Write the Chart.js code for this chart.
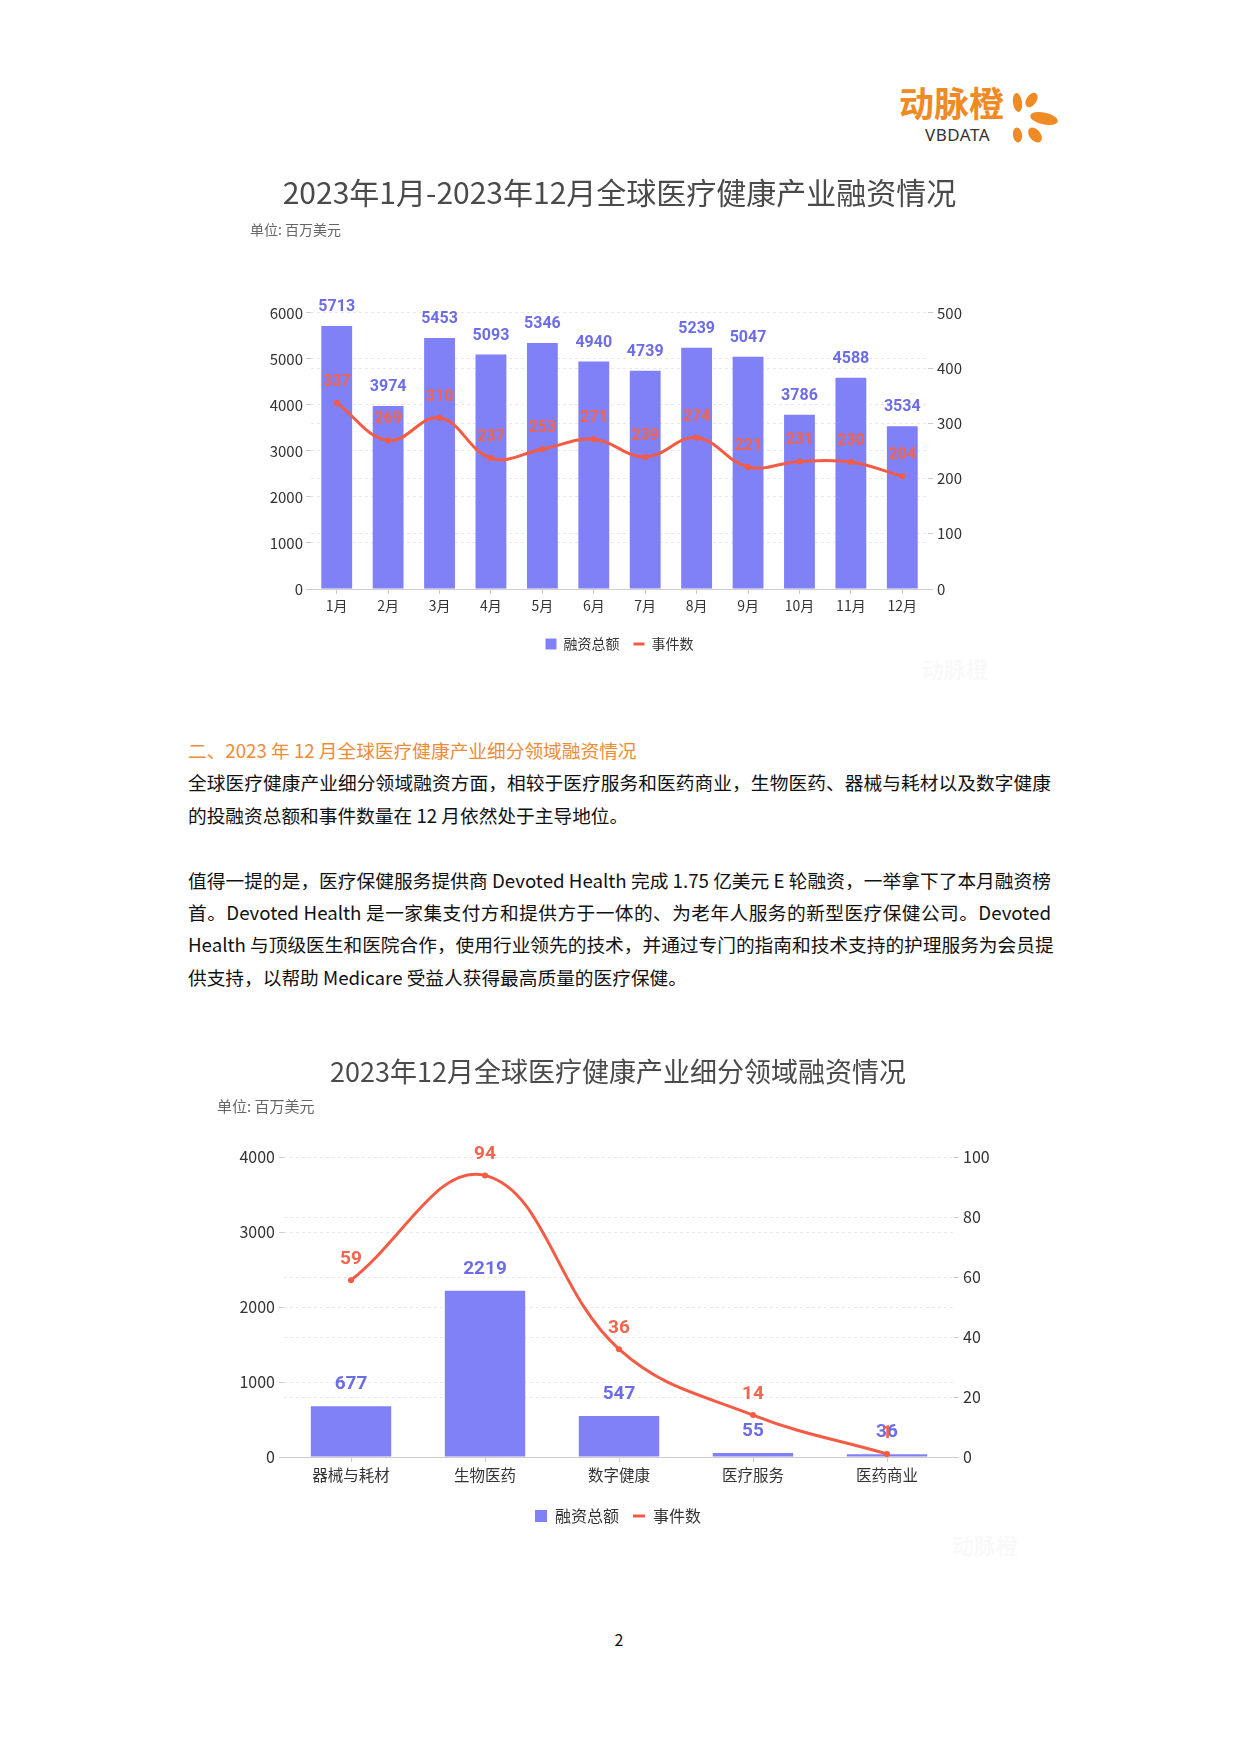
<!DOCTYPE html>
<html lang="zh-CN">
<head>
<meta charset="utf-8">
<title>2023年全球医疗健康产业融资情况</title>
<script src="https://cdn.jsdelivr.net/npm/chart.js@4.4.1/dist/chart.umd.min.js"></script>
<style>
  html, body { margin: 0; padding: 0; background: #fff; }
  body {
    width: 1240px; height: 1754px; position: relative; overflow: hidden;
    font-family: "Noto Sans CJK SC", "Noto Sans", sans-serif; color: #111;
  }
  .abs { position: absolute; }
  .logo-cn { left: 899px; top: 82px; font-size: 35px; line-height: 40px; color: #F08A24; font-weight: 700; }
  .logo-en { left: 925px; top: 126px; font-size: 17px; line-height: 18px; color: #333; letter-spacing: 0.5px; font-family: "Noto Sans", sans-serif; }
  .chart-box { position: absolute; }
  .text { left: 188px; top: 734px; width: 863px; font-size: 18.7px; line-height: 32.4px; }
  .text div { white-space: nowrap; text-align: justify; text-align-last: justify; }
  .text div.last { text-align-last: left; }
  .text .heading { color: #EE8C35; text-align-last: left; }
  .watermark { font-size: 22px; color: #f9f9f9; font-weight: bold; }
  .page-no { left: 600px; width: 38px; top: 1627px; text-align: center; font-size: 16px; line-height: 24px; }
</style>
</head>
<body>

<!-- logo -->
<div class="abs logo-cn">动脉橙</div>
<div class="abs logo-en">VBDATA</div>
<svg class="abs" style="left:1005px;top:88px" width="60" height="60" viewBox="1005 88 60 60">
  <g fill="#F08A24">
    <ellipse cx="1017.5" cy="102.5" rx="4.5" ry="9.5" transform="rotate(-8 1017.5 102.5)"/>
    <ellipse cx="1031.5" cy="100" rx="5" ry="8" transform="rotate(35 1031.5 100)"/>
    <ellipse cx="1044" cy="118.5" rx="14" ry="6" transform="rotate(12 1044 118.5)"/>
    <ellipse cx="1017.5" cy="135" rx="4.5" ry="7.5" transform="rotate(-8 1017.5 135)"/>
    <ellipse cx="1035" cy="135" rx="5.5" ry="8.5" transform="rotate(-40 1035 135)"/>
  </g>
</svg>

<div class="chart-box" style="left:229px;top:162px;width:781px;height:522px;">
  <canvas id="monthlyChart"></canvas>
</div>
<div class="abs watermark" style="left:922px;top:652px;">动脉橙</div>

<div class="abs text">
  <div class="heading">二、2023 年 12 月全球医疗健康产业细分领域融资情况</div>
  <div>全球医疗健康产业细分领域融资方面，相较于医疗服务和医药商业，生物医药、器械与耗材以及数字健康</div>
  <div class="last">的投融资总额和事件数量在 12 月依然处于主导地位。</div>
  <div class="last">&nbsp;</div>
  <div>值得一提的是，医疗保健服务提供商 Devoted Health 完成 1.75 亿美元 E 轮融资，一举拿下了本月融资榜</div>
  <div>首。Devoted Health 是一家集支付方和提供方于一体的、为老年人服务的新型医疗保健公司。Devoted</div>
  <div>Health 与顶级医生和医院合作，使用行业领先的技术，并通过专门的指南和技术支持的护理服务为会员提</div>
  <div class="last">供支持，以帮助 Medicare 受益人获得最高质量的医疗保健。</div>
</div>

<div class="chart-box" style="left:196px;top:1040px;width:844px;height:540px;">
  <canvas id="sectorChart"></canvas>
</div>
<div class="abs watermark" style="left:952px;top:1528px;">动脉橙</div>

<div class="abs page-no">2</div>

<script>
// ── Data ────────────────────────────────────────────────────
const months = ['1月', '2月', '3月', '4月', '5月', '6月', '7月', '8月', '9月', '10月', '11月', '12月'];
const monthlyAmount = [5713, 3974, 5453, 5093, 5346, 4940, 4739, 5239, 5047, 3786, 4588, 3534];
const monthlyEvents = [337, 269, 310, 237, 253, 271, 239, 274, 221, 231, 230, 204];
const monthlyAmountTicks = [0, 1000, 2000, 3000, 4000, 5000, 6000];
const monthlyEventTicks = [0, 100, 200, 300, 400, 500];

const sectors = ['器械与耗材', '生物医药', '数字健康', '医疗服务', '医药商业'];
const sectorAmount = [677, 2219, 547, 55, 36];
const sectorEvents = [59, 94, 36, 14, 1];
const sectorAmountTicks = [0, 1000, 2000, 3000, 4000];
const sectorEventTicks = [0, 20, 40, 60, 80, 100];

const seriesNames = ['融资总额', '事件数'];

// ── Colours ────────────────────────────────────────────────
const BAR_COLOR = '#8080F7';
const BAR_LABEL = '#6C6CE8';
const LINE_COLOR = '#F45B45';
const LINE_LABEL = '#F2644E';
const GRID_COLOR = '#E8E8E8';
const AXIS_COLOR = '#CCCCCC';

Chart.defaults.font.family = '"Noto Sans CJK SC", "Noto Sans", sans-serif';
Chart.defaults.color = '#333';

// value labels above bars / points
function makeValueLabels(styles) {
    return {
        id: 'valueLabels',
        afterDatasetsDraw(chart) {
            const ctx = chart.ctx;
            ctx.save();
            ctx.textAlign = 'center';
            ctx.textBaseline = 'middle';
            chart.data.datasets.forEach((ds, i) => {
                const st = styles[i];
                ctx.font = st.font;
                ctx.fillStyle = st.color;
                chart.getDatasetMeta(i).data.forEach((el, j) => {
                    ctx.fillText(String(ds.data[j]), el.x, el.y - st.offset);
                });
            });
            ctx.restore();
        }
    };
}

function yAxis(ticks, position, width, fontSize, pad) {
    return {
        type: 'linear',
        position: position,
        min: ticks[0],
        max: ticks[ticks.length - 1],
        ticks: {
            stepSize: ticks[1] - ticks[0],
            padding: pad,
            font: { size: fontSize },
            color: '#333',
            callback: v => String(v)
        },
        grid: { color: GRID_COLOR, drawTicks: true, tickLength: 5, tickColor: AXIS_COLOR },
        border: { display: false, dash: [3, 3] },
        afterFit: s => { s.width = width; }
    };
}

function buildComboChart(canvasId, cfg) {
    const ctx = document.getElementById(canvasId);
    return new Chart(ctx, {
        data: {
            labels: cfg.labels,
            datasets: [
                {
                    type: 'bar',
                    label: seriesNames[0],
                    data: cfg.bars,
                    backgroundColor: BAR_COLOR,
                    barPercentage: 0.6,
                    categoryPercentage: 1,
                    yAxisID: 'y',
                    order: 2
                },
                {
                    type: 'line',
                    label: seriesNames[1],
                    data: cfg.line,
                    borderColor: LINE_COLOR,
                    backgroundColor: LINE_COLOR,
                    borderWidth: 3,
                    pointRadius: 3,
                    pointBorderWidth: 0,
                    tension: 0.4,
                    yAxisID: 'y1',
                    order: 1
                }
            ]
        },
        options: {
            responsive: true,
            maintainAspectRatio: false,
            animation: false,
            layout: { padding: { left: 21, right: 21, top: 0, bottom: cfg.padBottom } },
            plugins: {
                title: {
                    display: true,
                    text: cfg.title,
                    color: '#4A4A4A',
                    font: { size: cfg.titleSize, weight: 'normal' },
                    padding: cfg.titlePad
                },
                subtitle: {
                    display: true,
                    text: '单位: 百万美元',
                    align: 'start',
                    color: '#666',
                    font: { size: cfg.subSize },
                    padding: cfg.subPad
                },
                legend: {
                    position: 'bottom',
                    labels: {
                        usePointStyle: true,
                        boxHeight: cfg.legendBox,
                        pointStyleWidth: cfg.legendBox,
                        padding: cfg.legendGap,
                        color: '#333',
                        font: { size: cfg.legendSize },
                        generateLabels(chart) {
                            const items = Chart.defaults.plugins.legend.labels.generateLabels(chart);
                            items.sort((a, b) => a.datasetIndex - b.datasetIndex);
                            items.forEach(it => {
                                it.pointStyle = it.datasetIndex === 0 ? 'rect' : 'line';
                                it.lineWidth = it.datasetIndex === 0 ? 0 : 3;
                            });
                            return items;
                        }
                    }
                },
                tooltip: { enabled: false }
            },
            scales: {
                x: {
                    type: 'category',
                    ticks: { padding: cfg.xPad, font: { size: cfg.xSize }, color: '#333' },
                    grid: { display: true, drawOnChartArea: false, drawTicks: true, tickLength: 5, offset: false, tickColor: AXIS_COLOR },
                    border: { display: true, color: AXIS_COLOR, width: 1 },
                    afterFit: s => { s.height = cfg.xHeight; }
                },
                y: yAxis(cfg.leftTicks, 'left', cfg.leftWidth, cfg.ySize, cfg.leftPad),
                y1: yAxis(cfg.rightTicks, 'right', cfg.rightWidth, cfg.ySize, cfg.rightPad)
            }
        },
        plugins: [makeValueLabels([
            { font: 'bold ' + cfg.barLabelSize + 'px Roboto, "DejaVu Sans", sans-serif', color: BAR_LABEL, offset: cfg.barLabelOffset },
            { font: 'bold ' + cfg.lineLabelSize + 'px Roboto, "DejaVu Sans", sans-serif', color: LINE_LABEL, offset: cfg.lineLabelOffset }
        ])]
    });
}

// ── Chart 1: monthly ───────────────────────────────────────
buildComboChart('monthlyChart', {
    title: '2023年1月-2023年12月全球医疗健康产业融资情况',
    labels: months,
    bars: monthlyAmount,
    line: monthlyEvents,
    leftTicks: monthlyAmountTicks,
    rightTicks: monthlyEventTicks,
    titleSize: 30, titlePad: { top: 13, bottom: 10 },
    subSize: 14, subPad: { top: 0, bottom: 75 },
    legendSize: 14, legendBox: 11, legendGap: 14,
    padBottom: 23,
    xSize: 14, xPad: 3, xHeight: 34,
    ySize: 15, leftPad: 3, rightPad: 4,
    leftWidth: 61, rightWidth: 61,
    barLabelSize: 16, barLabelOffset: 19,
    lineLabelSize: 16, lineLabelOffset: 21
});

// ── Chart 2: sectors, Dec 2023 ────────────────────────────
buildComboChart('sectorChart', {
    title: '2023年12月全球医疗健康产业细分领域融资情况',
    labels: sectors,
    bars: sectorAmount,
    line: sectorEvents,
    leftTicks: sectorAmountTicks,
    rightTicks: sectorEventTicks,
    titleSize: 27, titlePad: { top: 16, bottom: 9 },
    subSize: 15, subPad: { top: 0, bottom: 42 },
    legendSize: 16, legendBox: 12, legendGap: 14,
    padBottom: 46,
    xSize: 15.5, xPad: 4, xHeight: 37,
    ySize: 16, leftPad: 4, rightPad: 4,
    leftWidth: 67, rightWidth: 65,
    barLabelSize: 19, barLabelOffset: 22,
    lineLabelSize: 19, lineLabelOffset: 21
});
</script>
</body>
</html>
